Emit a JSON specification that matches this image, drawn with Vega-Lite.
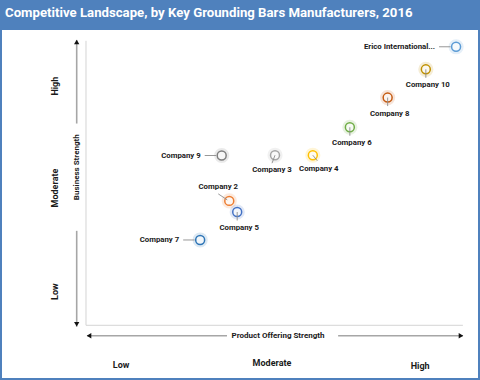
{
  "$schema": "https://vega.github.io/schema/vega-lite/v6.json",
  "width": 480,
  "height": 380,
  "autosize": {"type": "fit", "contains": "padding"},
  "padding": {"left": 2, "right": 2, "top": 5, "bottom": 2},
  "background": "#4f81bd",
  "title": {
    "text": "Competitive Landscape, by Key Grounding Bars Manufacturers, 2016",
    "anchor": "start",
    "color": "white",
    "font": "Roboto",
    "fontSize": 13.2,
    "fontWeight": "bold",
    "offset": 10,
    "dx": 3
  },
  "config": {"view": {"fill": "white", "stroke": null}},
  "resolve": {"scale": {"shape": "independent"}},
  "datasets": {
    "frame": [
      {"x": 0, "y": 9.97, "x2": 0, "y2": 0},
      {"x": 0, "y": 0, "x2": 9.97, "y2": 0}
    ],
    "arrows": [
      {"x": -0.246, "y": 10.0, "x2": -0.246, "y2": 7.07},
      {"x": -0.246, "y": 3.31, "x2": -0.246, "y2": -0.05},
      {"x": 0.03, "y": -0.366, "x2": 3.73, "y2": -0.366},
      {"x": 6.67, "y": -0.366, "x2": 9.97, "y2": -0.366}
    ],
    "heads": [
      {"x": -0.246, "y": 9.93, "dir": "up"},
      {"x": -0.246, "y": 0.035, "dir": "down"},
      {"x": 0.08, "y": -0.366, "dir": "left"},
      {"x": 9.92, "y": -0.366, "dir": "right"}
    ],
    "axisTitles": [
      {"text": "Business Strength", "x": -0.246, "y": 5.54, "orient": "vertical"},
      {"text": "Product Offering Strength", "x": 5.08, "y": -0.366, "orient": "horizontal"}
    ],
    "levels": [
      {"level": "High", "axis": "y", "x": -0.82, "y": 8.38},
      {"level": "Moderate", "axis": "y", "x": -0.82, "y": 4.81},
      {"level": "Low", "axis": "y", "x": -0.82, "y": 1.18},
      {"level": "Low", "axis": "x", "x": 0.93, "y": -1.39},
      {"level": "Moderate", "axis": "x", "x": 4.92, "y": -1.33},
      {"level": "High", "axis": "x", "x": 8.84, "y": -1.42}
    ],
    "companies": [
      {"company": "Erico International...", "product_offering": 9.79, "business_strength": 9.76, "pos": "left"},
      {"company": "Company 10", "product_offering": 8.99, "business_strength": 8.97, "pos": "below"},
      {"company": "Company 8", "product_offering": 7.98, "business_strength": 7.98, "pos": "below"},
      {"company": "Company 6", "product_offering": 6.98, "business_strength": 6.94, "pos": "below"},
      {"company": "Company 4", "product_offering": 6.0, "business_strength": 5.96, "pos": "below-right"},
      {"company": "Company 3", "product_offering": 5.0, "business_strength": 5.96, "pos": "below-left"},
      {"company": "Company 9", "product_offering": 3.59, "business_strength": 5.95, "pos": "left"},
      {"company": "Company 2", "product_offering": 3.79, "business_strength": 4.36, "pos": "above"},
      {"company": "Company 5", "product_offering": 4.0, "business_strength": 3.97, "pos": "below"},
      {"company": "Company 7", "product_offering": 3.02, "business_strength": 2.99, "pos": "left"}
    ]
  },
  "layer": [
    {
      "data": {"name": "frame"},
      "mark": {"type": "rule", "color": "#d4d4d4", "strokeWidth": 1},
      "encoding": {
        "x": {"field": "x", "type": "quantitative", "scale": {"domain": [-2.222, 10.37], "nice": false, "zero": false}, "axis": null},
        "y": {"field": "y", "type": "quantitative", "scale": {"domain": [-1.847, 10.348], "nice": false, "zero": false}, "axis": null},
        "x2": {"field": "x2"},
        "y2": {"field": "y2"}
      }
    },
    {
      "data": {"name": "arrows"},
      "mark": {"type": "rule", "color": "#a6a6a6", "strokeWidth": 1.6},
      "encoding": {
        "x": {"field": "x", "type": "quantitative", "scale": {"domain": [-2.222, 10.37], "nice": false, "zero": false}, "axis": null},
        "y": {"field": "y", "type": "quantitative", "scale": {"domain": [-1.847, 10.348], "nice": false, "zero": false}, "axis": null},
        "x2": {"field": "x2"},
        "y2": {"field": "y2"}
      }
    },
    {
      "data": {"name": "heads"},
      "mark": {"type": "point", "filled": true, "color": "#111111", "opacity": 1, "size": 28},
      "encoding": {
        "x": {"field": "x", "type": "quantitative", "scale": {"domain": [-2.222, 10.37], "nice": false, "zero": false}, "axis": null},
        "y": {"field": "y", "type": "quantitative", "scale": {"domain": [-1.847, 10.348], "nice": false, "zero": false}, "axis": null},
        "shape": {"field": "dir", "type": "nominal", "scale": {"domain": ["up", "down", "left", "right"], "range": ["triangle-up", "triangle-down", "triangle-left", "triangle-right"]}, "legend": null}
      }
    },
    {
      "data": {"name": "axisTitles"},
      "transform": [{"filter": "datum.orient == 'vertical'"}],
      "mark": {"type": "text", "angle": 270, "font": "Roboto", "fontSize": 8, "fontWeight": "bold", "color": "#1a1a1a", "align": "center", "baseline": "middle"},
      "encoding": {
        "x": {"field": "x", "type": "quantitative", "scale": {"domain": [-2.222, 10.37], "nice": false, "zero": false}, "axis": null},
        "y": {"field": "y", "type": "quantitative", "scale": {"domain": [-1.847, 10.348], "nice": false, "zero": false}, "axis": null},
        "text": {"field": "text"}
      }
    },
    {
      "data": {"name": "axisTitles"},
      "transform": [{"filter": "datum.orient == 'horizontal'"}],
      "mark": {"type": "text", "font": "Roboto", "fontSize": 8, "fontWeight": "bold", "color": "#1a1a1a", "align": "center", "baseline": "middle"},
      "encoding": {
        "x": {"field": "x", "type": "quantitative", "scale": {"domain": [-2.222, 10.37], "nice": false, "zero": false}, "axis": null},
        "y": {"field": "y", "type": "quantitative", "scale": {"domain": [-1.847, 10.348], "nice": false, "zero": false}, "axis": null},
        "text": {"field": "text"}
      }
    },
    {
      "data": {"name": "levels"},
      "transform": [{"filter": "datum.axis == 'y'"}],
      "mark": {"type": "text", "angle": 270, "font": "Roboto", "fontSize": 9, "fontWeight": "bold", "color": "#1a1a1a", "align": "center", "baseline": "middle"},
      "encoding": {
        "x": {"field": "x", "type": "quantitative", "scale": {"domain": [-2.222, 10.37], "nice": false, "zero": false}, "axis": null},
        "y": {"field": "y", "type": "quantitative", "scale": {"domain": [-1.847, 10.348], "nice": false, "zero": false}, "axis": null},
        "text": {"field": "level"}
      }
    },
    {
      "data": {"name": "levels"},
      "transform": [{"filter": "datum.axis == 'x'"}],
      "mark": {"type": "text", "font": "Roboto", "fontSize": 9, "fontWeight": "bold", "color": "#1a1a1a", "align": "center", "baseline": "middle"},
      "encoding": {
        "x": {"field": "x", "type": "quantitative", "scale": {"domain": [-2.222, 10.37], "nice": false, "zero": false}, "axis": null},
        "y": {"field": "y", "type": "quantitative", "scale": {"domain": [-1.847, 10.348], "nice": false, "zero": false}, "axis": null},
        "text": {"field": "level"}
      }
    },
    {
      "data": {"name": "companies"},
      "mark": {"type": "point", "filled": true, "size": 230, "opacity": 0.16},
      "encoding": {
        "x": {"field": "product_offering", "type": "quantitative", "scale": {"domain": [-2.222, 10.37], "nice": false, "zero": false}, "axis": null},
        "y": {"field": "business_strength", "type": "quantitative", "scale": {"domain": [-1.847, 10.348], "nice": false, "zero": false}, "axis": null},
        "color": {"field": "company", "type": "nominal", "legend": null, "scale": {
          "domain": ["Erico International...", "Company 10", "Company 8", "Company 6", "Company 4", "Company 3", "Company 9", "Company 2", "Company 5", "Company 7"],
          "range": ["#5b9bd5", "#bf9000", "#c55a11", "#70ad47", "#ffc000", "#a5a5a5", "#7f7f7f", "#ed7d31", "#4472c4", "#2e75b6"]}}
      }
    },
    {
      "data": {"name": "companies"},
      "mark": {"type": "point", "filled": false, "size": 80, "strokeWidth": 1.5, "opacity": 1, "fill": "#ffffff", "fillOpacity": 0.6},
      "encoding": {
        "x": {"field": "product_offering", "type": "quantitative", "scale": {"domain": [-2.222, 10.37], "nice": false, "zero": false}, "axis": null},
        "y": {"field": "business_strength", "type": "quantitative", "scale": {"domain": [-1.847, 10.348], "nice": false, "zero": false}, "axis": null},
        "color": {"field": "company", "type": "nominal", "legend": null, "scale": {
          "domain": ["Erico International...", "Company 10", "Company 8", "Company 6", "Company 4", "Company 3", "Company 9", "Company 2", "Company 5", "Company 7"],
          "range": ["#5b9bd5", "#bf9000", "#c55a11", "#70ad47", "#ffc000", "#a5a5a5", "#7f7f7f", "#ed7d31", "#4472c4", "#2e75b6"]}}
      }
    },
    {
      "data": {"name": "companies"},
      "mark": {"type": "point", "filled": false, "size": 400, "strokeWidth": 0.9, "stroke": "#8c8c8c", "opacity": 1},
      "encoding": {
        "x": {"field": "product_offering", "type": "quantitative", "scale": {"domain": [-2.222, 10.37], "nice": false, "zero": false}, "axis": null},
        "y": {"field": "business_strength", "type": "quantitative", "scale": {"domain": [-1.847, 10.348], "nice": false, "zero": false}, "axis": null},
        "shape": {"field": "pos", "type": "nominal", "legend": null, "scale": {
          "domain": ["left", "below", "below-left", "below-right", "above"],
          "range": ["M -1.7 0 L -0.55 0", "M 0 0 L 0 0.85", "M 0 0 L -0.3 0.8", "M 0 0 L 0.45 0.55", "M -1.1 -0.7 L -0.2 -0.1"]}}
      }
    },
    {
      "data": {"name": "companies"},
      "transform": [{"filter": "datum.pos == 'left'"}],
      "mark": {"type": "text", "font": "Roboto", "fontSize": 7.8, "fontWeight": "bold", "color": "#1a1a1a", "align": "right", "baseline": "middle", "dx": -21},
      "encoding": {
        "x": {"field": "product_offering", "type": "quantitative", "scale": {"domain": [-2.222, 10.37], "nice": false, "zero": false}, "axis": null},
        "y": {"field": "business_strength", "type": "quantitative", "scale": {"domain": [-1.847, 10.348], "nice": false, "zero": false}, "axis": null},
        "text": {"field": "company"}
      }
    },
    {
      "data": {"name": "companies"},
      "transform": [{"filter": "datum.pos == 'below'"}],
      "mark": {"type": "text", "font": "Roboto", "fontSize": 7.8, "fontWeight": "bold", "color": "#1a1a1a", "align": "center", "baseline": "middle", "dx": 2, "dy": 16},
      "encoding": {
        "x": {"field": "product_offering", "type": "quantitative", "scale": {"domain": [-2.222, 10.37], "nice": false, "zero": false}, "axis": null},
        "y": {"field": "business_strength", "type": "quantitative", "scale": {"domain": [-1.847, 10.348], "nice": false, "zero": false}, "axis": null},
        "text": {"field": "company"}
      }
    },
    {
      "data": {"name": "companies"},
      "transform": [{"filter": "datum.pos == 'below-left'"}],
      "mark": {"type": "text", "font": "Roboto", "fontSize": 7.8, "fontWeight": "bold", "color": "#1a1a1a", "align": "center", "baseline": "middle", "dx": -3, "dy": 15},
      "encoding": {
        "x": {"field": "product_offering", "type": "quantitative", "scale": {"domain": [-2.222, 10.37], "nice": false, "zero": false}, "axis": null},
        "y": {"field": "business_strength", "type": "quantitative", "scale": {"domain": [-1.847, 10.348], "nice": false, "zero": false}, "axis": null},
        "text": {"field": "company"}
      }
    },
    {
      "data": {"name": "companies"},
      "transform": [{"filter": "datum.pos == 'below-right'"}],
      "mark": {"type": "text", "font": "Roboto", "fontSize": 7.8, "fontWeight": "bold", "color": "#1a1a1a", "align": "center", "baseline": "middle", "dx": 6, "dy": 14},
      "encoding": {
        "x": {"field": "product_offering", "type": "quantitative", "scale": {"domain": [-2.222, 10.37], "nice": false, "zero": false}, "axis": null},
        "y": {"field": "business_strength", "type": "quantitative", "scale": {"domain": [-1.847, 10.348], "nice": false, "zero": false}, "axis": null},
        "text": {"field": "company"}
      }
    },
    {
      "data": {"name": "companies"},
      "transform": [{"filter": "datum.pos == 'above'"}],
      "mark": {"type": "text", "font": "Roboto", "fontSize": 7.8, "fontWeight": "bold", "color": "#1a1a1a", "align": "center", "baseline": "middle", "dx": -11, "dy": -14},
      "encoding": {
        "x": {"field": "product_offering", "type": "quantitative", "scale": {"domain": [-2.222, 10.37], "nice": false, "zero": false}, "axis": null},
        "y": {"field": "business_strength", "type": "quantitative", "scale": {"domain": [-1.847, 10.348], "nice": false, "zero": false}, "axis": null},
        "text": {"field": "company"}
      }
    }
  ]
}
